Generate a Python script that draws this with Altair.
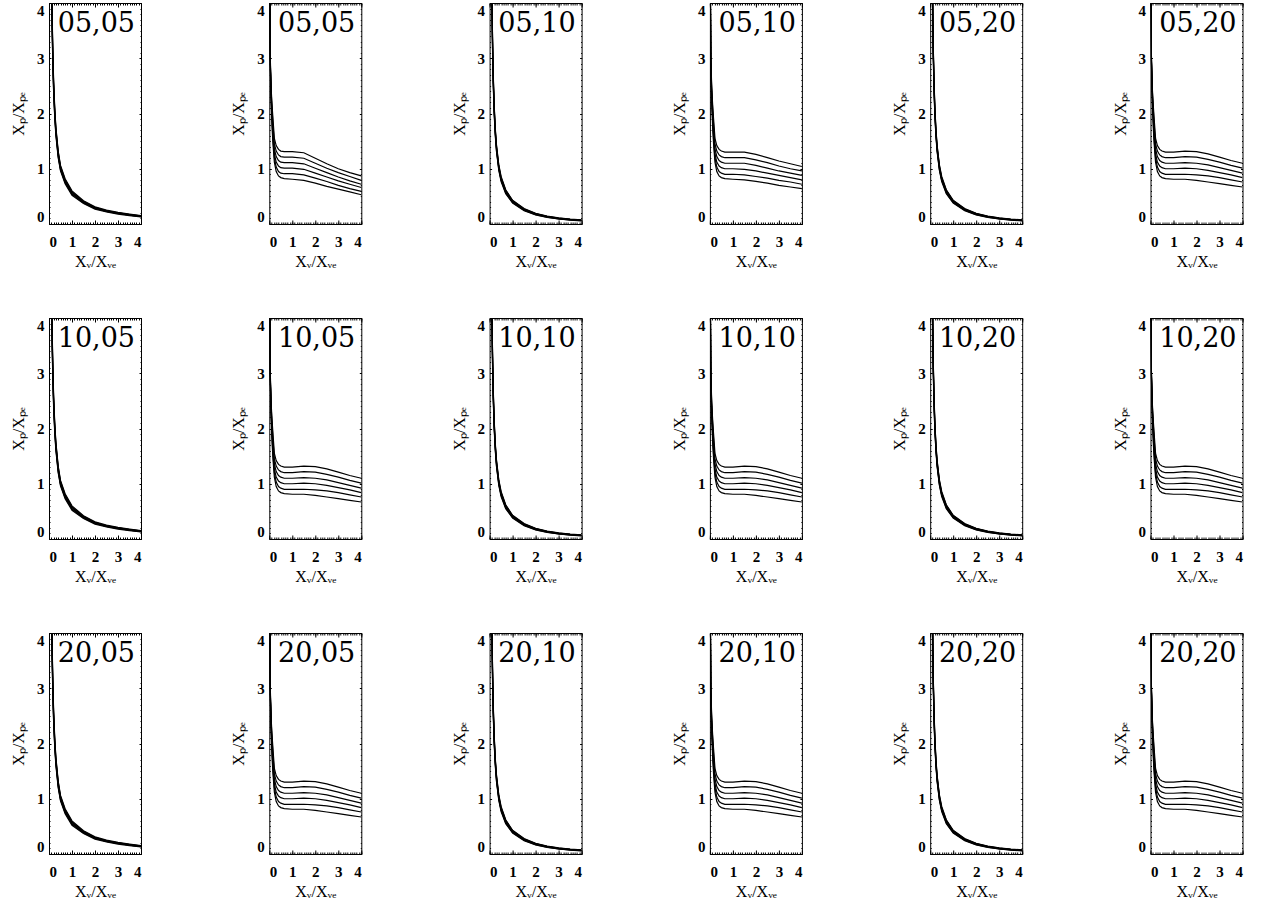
import altair as alt
import pandas as pd

# ---------------- data ----------------
ROW_TAGS = ["05", "10", "20"]
COL_TAGS = ["05", "05", "10", "10", "20", "20"]

# "A" panels (columns 1,3,5): thick band of six nearly coincident curves
XA = [0.10, 0.13, 0.16, 0.20, 0.25, 0.30, 0.40, 0.50, 0.70, 1.00, 1.50, 2.00, 2.50, 3.00, 3.50, 4.00]
A1_LINES = [  # column 1
    [5.20, 4.00, 3.25, 2.60, 2.10, 1.75, 1.32, 1.06, 0.82, 0.60, 0.42, 0.31, 0.25, 0.21, 0.18, 0.150],
    [5.14, 3.95, 3.20, 2.56, 2.06, 1.72, 1.30, 1.04, 0.80, 0.58, 0.41, 0.30, 0.24, 0.20, 0.17, 0.146],
    [5.08, 3.90, 3.15, 2.52, 2.03, 1.69, 1.27, 1.02, 0.78, 0.57, 0.40, 0.29, 0.24, 0.20, 0.17, 0.142],
    [5.02, 3.85, 3.10, 2.48, 1.99, 1.66, 1.25, 1.00, 0.76, 0.55, 0.39, 0.29, 0.23, 0.19, 0.16, 0.138],
    [4.96, 3.80, 3.05, 2.44, 1.96, 1.63, 1.22, 0.98, 0.75, 0.54, 0.38, 0.28, 0.23, 0.19, 0.16, 0.134],
    [4.90, 3.75, 3.00, 2.40, 1.92, 1.60, 1.20, 0.96, 0.73, 0.52, 0.37, 0.27, 0.22, 0.18, 0.15, 0.130],
]
A2_LINES = [  # columns 3 and 5
    [4.30, 3.30, 2.70, 2.15, 1.72, 1.43, 1.07, 0.86, 0.62, 0.43, 0.280, 0.195, 0.145, 0.110, 0.090, 0.075],
    [4.25, 3.26, 2.66, 2.12, 1.69, 1.41, 1.05, 0.84, 0.61, 0.42, 0.272, 0.190, 0.140, 0.106, 0.086, 0.071],
    [4.20, 3.22, 2.62, 2.08, 1.66, 1.38, 1.03, 0.82, 0.59, 0.41, 0.264, 0.183, 0.136, 0.102, 0.082, 0.068],
    [4.15, 3.18, 2.58, 2.05, 1.64, 1.36, 1.01, 0.80, 0.58, 0.40, 0.256, 0.177, 0.131, 0.098, 0.078, 0.064],
    [4.10, 3.14, 2.54, 2.01, 1.61, 1.33, 0.99, 0.79, 0.56, 0.39, 0.248, 0.171, 0.126, 0.094, 0.074, 0.061],
    [4.05, 3.10, 2.50, 1.98, 1.58, 1.31, 0.97, 0.77, 0.55, 0.38, 0.240, 0.165, 0.120, 0.090, 0.070, 0.058],
]

# "B" panels (columns 2,4,6): six separated curves
XB = [0.02, 0.04, 0.08, 0.12, 0.16, 0.22, 0.30, 0.40, 0.50, 0.65, 1.00, 1.50, 2.00, 2.50, 3.00, 3.50, 4.00]
B_HEAD = [  # x = 0.02 ... 0.50
    [4.30, 3.05, 2.45, 2.15, 1.90, 1.55, 1.42, 1.35, 1.32],
    [4.25, 3.00, 2.40, 2.08, 1.80, 1.45, 1.32, 1.25, 1.22],
    [4.20, 2.98, 2.35, 2.00, 1.70, 1.36, 1.22, 1.15, 1.12],
    [4.15, 2.95, 2.30, 1.93, 1.61, 1.27, 1.12, 1.05, 1.02],
    [4.10, 2.92, 2.25, 1.85, 1.53, 1.20, 1.03, 0.95, 0.92],
    [4.05, 2.90, 2.20, 1.75, 1.45, 1.12, 0.95, 0.87, 0.84],
]
B1_TAIL = [  # row 1, column 2 ; x = 0.65 ... 4.0
    [1.31, 1.31, 1.29, 1.19, 1.09, 1.00, 0.93, 0.87],
    [1.21, 1.21, 1.19, 1.10, 1.01, 0.93, 0.86, 0.79],
    [1.11, 1.11, 1.09, 1.01, 0.93, 0.85, 0.78, 0.72],
    [1.01, 1.01, 0.99, 0.92, 0.85, 0.78, 0.72, 0.66],
    [0.91, 0.91, 0.89, 0.83, 0.77, 0.70, 0.64, 0.59],
    [0.82, 0.81, 0.79, 0.74, 0.68, 0.63, 0.58, 0.53],
]
B2_TAIL = [  # row 1, column 4
    [1.30, 1.30, 1.30, 1.26, 1.20, 1.14, 1.09, 1.04],
    [1.20, 1.20, 1.20, 1.16, 1.11, 1.05, 1.00, 0.96],
    [1.10, 1.10, 1.10, 1.06, 1.01, 0.96, 0.92, 0.88],
    [1.00, 1.00, 0.99, 0.96, 0.92, 0.88, 0.84, 0.80],
    [0.90, 0.90, 0.89, 0.86, 0.83, 0.79, 0.76, 0.72],
    [0.82, 0.81, 0.80, 0.77, 0.74, 0.70, 0.67, 0.64],
]
B3_TAIL = [  # all other B panels
    [1.30, 1.30, 1.32, 1.31, 1.27, 1.21, 1.15, 1.10],
    [1.20, 1.20, 1.22, 1.21, 1.17, 1.12, 1.06, 1.01],
    [1.10, 1.10, 1.11, 1.10, 1.07, 1.02, 0.97, 0.92],
    [1.00, 1.00, 1.01, 1.00, 0.97, 0.93, 0.89, 0.84],
    [0.90, 0.90, 0.90, 0.89, 0.87, 0.84, 0.80, 0.76],
    [0.82, 0.81, 0.81, 0.79, 0.76, 0.73, 0.70, 0.67],
]

X_MAJOR = [0, 1, 2, 3, 4]
Y_MAJOR = [0, 1, 2, 3, 4]
MINOR = [round(i * 0.1, 1) for i in range(41)]

X_TITLE = "Xᵥ/Xᵥₑ"
Y_TITLE = "Xₚ/Xₚₑ"

FONT = "Liberation Serif"
LABEL_FONT = "DejaVu Serif"
PW, PH = 92, 221


def curves_for(r, c):
    if c == 0:
        return XA, A1_LINES
    if c % 2 == 0:
        return XA, A2_LINES
    if r == 0 and c == 1:
        tail = B1_TAIL
    elif r == 0 and c == 3:
        tail = B2_TAIL
    else:
        tail = B3_TAIL
    return XB, [h + t for h, t in zip(B_HEAD, tail)]


def tick_axis(orient, values, size):
    return alt.Axis(orient=orient, values=values, offset=-size, tickSize=size,
                    tickColor="black", tickWidth=1, labels=False, domain=False,
                    grid=False, title=None)


def panel(r, c):
    xs, lines = curves_for(r, c)
    recs = []
    for li, ys in enumerate(lines):
        for x, y in zip(xs, ys):
            recs.append({"line": li, "x": x, "y": y})
    df = pd.DataFrame(recs)
    label = f"{ROW_TAGS[r]},{COL_TAGS[c]}"

    xsc = alt.Scale(domain=[0, 4], nice=False, zero=False)
    ysc = alt.Scale(domain=[0, 4], nice=False, zero=False)

    base = alt.Chart(df)
    main = base.mark_line(clip=True, color="black", strokeWidth=1.2).encode(
        x=alt.X("x:Q", scale=xsc, axis=alt.Axis(
            orient="bottom", values=X_MAJOR, format="d", offset=-4, tickSize=4,
            tickColor="black", tickWidth=1, domain=False, grid=False,
            labelFont=FONT, labelFontSize=15, labelFontWeight="bold",
            labelColor="black", labelPadding=10,
            labelAngle=0, labelOverlap=False,
            title=X_TITLE, titleFont=FONT, titleFontSize=16, titleFontWeight="normal",
            titleColor="black", titlePadding=4)),
        y=alt.Y("y:Q", scale=ysc, axis=alt.Axis(
            orient="left", values=Y_MAJOR, format="d", offset=-2, tickSize=2,
            tickColor="black", tickWidth=1, domain=False, grid=False,
            labelFont=FONT, labelFontSize=15, labelFontWeight="bold",
            labelColor="black", labelPadding=5,
            labelFlush=True, labelOverlap=False,
            title=Y_TITLE, titleFont=FONT, titleFontSize=16, titleFontWeight="normal",
            titleColor="black", titlePadding=10)),
        detail="line:N",
    )
    inv = base.mark_point(opacity=0, size=1, clip=True)
    minor_bl = inv.encode(
        x=alt.X("x:Q", scale=xsc, axis=tick_axis("bottom", MINOR, 2)),
        y=alt.Y("y:Q", scale=ysc, axis=tick_axis("left", MINOR, 1)),
    )
    major_tr = inv.encode(
        x=alt.X("x:Q", scale=xsc, axis=tick_axis("top", X_MAJOR, 4)),
        y=alt.Y("y:Q", scale=ysc, axis=tick_axis("right", Y_MAJOR, 2)),
    )
    minor_tr = inv.encode(
        x=alt.X("x:Q", scale=xsc, axis=tick_axis("top", MINOR, 2)),
        y=alt.Y("y:Q", scale=ysc, axis=tick_axis("right", MINOR, 1)),
    )
    txt = alt.Chart(pd.DataFrame({"label": [label]})).mark_text(
        align="right", baseline="alphabetic", font=LABEL_FONT, fontSize=27,
        color="black").encode(text="label:N", x=alt.value(PW - 6), y=alt.value(28.5))

    return alt.layer(main, minor_bl, major_tr, minor_tr, txt).resolve_axis(
        x="independent", y="independent").properties(width=PW, height=PH)


panels = [panel(r, c) for r in range(3) for c in range(6)]

chart = alt.concat(*panels, columns=6, spacing={"row": 94, "column": 128.3},
                   bounds="flush").properties(
    padding={"left": 10, "top": 2, "right": 5, "bottom": 5},
    background="white",
).configure_view(stroke="black", strokeWidth=1)

chart.save("out.html", embed_options={"renderer": "svg", "actions": False})
